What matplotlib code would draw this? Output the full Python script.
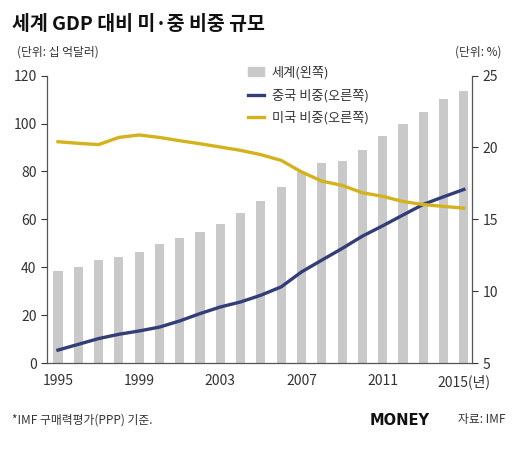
"""World GDP vs US/China share chart."""

import matplotlib

matplotlib.use("Agg")
import matplotlib.pyplot as plt
from matplotlib.lines import Line2D
from matplotlib.patches import Patch

plt.rcParams["font.family"] = ["Noto Sans CJK KR", "DejaVu Sans"]

YEARS = list(range(1995, 2016))
WORLD_GDP = [38.3, 40.3, 43.1, 44.3, 46.4, 49.8, 52.2, 54.7, 58.2, 62.7, 67.7,
             73.6, 79.6, 83.4, 84.2, 89.1, 94.8, 99.6, 104.9, 110.1, 113.7]
CHINA_SHARE = [5.9, 6.3, 6.7, 7.0, 7.23, 7.5, 7.93, 8.44, 8.9, 9.25, 9.72,
               10.3, 11.34, 12.16, 12.97, 13.83, 14.55, 15.3, 16.04, 16.57, 17.08]
US_SHARE = [20.4, 20.29, 20.2, 20.7, 20.87, 20.7, 20.47, 20.26, 20.03, 19.8, 19.5,
            19.1, 18.3, 17.66, 17.36, 16.85, 16.6, 16.24, 16.03, 15.9, 15.78]
XTICKS = [1995, 1999, 2003, 2007, 2011, 2015]
XTICK_LABELS = ["1995", "1999", "2003", "2007", "2011", "2015(년)"]

GRAY = "#c9c9c9"
NAVY = "#333d78"
YELLOW = "#d4b21c"
TEXT = "#333333"

fig = plt.figure(figsize=(5.2, 4.54), dpi=100)
ax = fig.add_axes([0.0904, 0.2004, 0.8173, 0.633])
ax2 = ax.twinx()

ax.bar(YEARS, WORLD_GDP, width=0.45, color=GRAY, zorder=1)
ax2.plot(YEARS, CHINA_SHARE, color=NAVY, lw=2.4, solid_joinstyle="round")
ax2.plot(YEARS, US_SHARE, color=YELLOW, lw=2.4, solid_joinstyle="round")

ax.set_xlim(1994.46, 2015.4)
ax.set_ylim(0, 120)
ax.set_yticks(range(0, 121, 20))
ax2.set_ylim(5, 25)
ax2.set_yticks(range(5, 26, 5))
ax.set_xticks(XTICKS)
ax.set_xticklabels(XTICK_LABELS)

for a in (ax, ax2):
    a.spines["top"].set_visible(False)
    for s in a.spines.values():
        s.set_color("#555555")
        s.set_linewidth(0.9)
    a.tick_params(colors=TEXT, labelsize=10, length=4, width=0.8)
ax.tick_params(axis="x", length=0, pad=8)
ax.spines["right"].set_visible(False)
ax2.spines["left"].set_visible(False)
ax2.spines["bottom"].set_visible(False)

handles = [
    Patch(color=GRAY, label="세계(왼쪽)"),
    Line2D([], [], color=NAVY, lw=2.4, label="중국 비중(오른쪽)"),
    Line2D([], [], color=YELLOW, lw=2.4, label="미국 비중(오른쪽)"),
]
ax2.legend(handles=handles, loc="upper left", bbox_to_anchor=(0.445, 1.075),
           frameon=False, fontsize=9.5, handlelength=1.2, handletextpad=0.6,
           labelspacing=0.7, labelcolor=TEXT)

fig.text(0.023, 0.945, "세계 GDP 대비 미·중 비중 규모", fontsize=14,
         fontweight="bold", color="#111111", va="center")
fig.text(0.033, 0.885, "(단위: 십 억달러)", fontsize=8.5, color=TEXT, va="center")
fig.text(0.965, 0.885, "(단위: %)", fontsize=8.5, color=TEXT, va="center", ha="right")
fig.text(0.023, 0.075, "*IMF 구매력평가(PPP) 기준.", fontsize=8.5, color=TEXT, va="center")
fig.text(0.71, 0.073, "MONEY", fontsize=10.5, fontweight="black", color="#111111",
         va="center", family=["DejaVu Sans"])
fig.text(0.972, 0.075, "자료: IMF", fontsize=8.5, color=TEXT, va="center", ha="right")

fig.savefig("out.png", dpi=100)
